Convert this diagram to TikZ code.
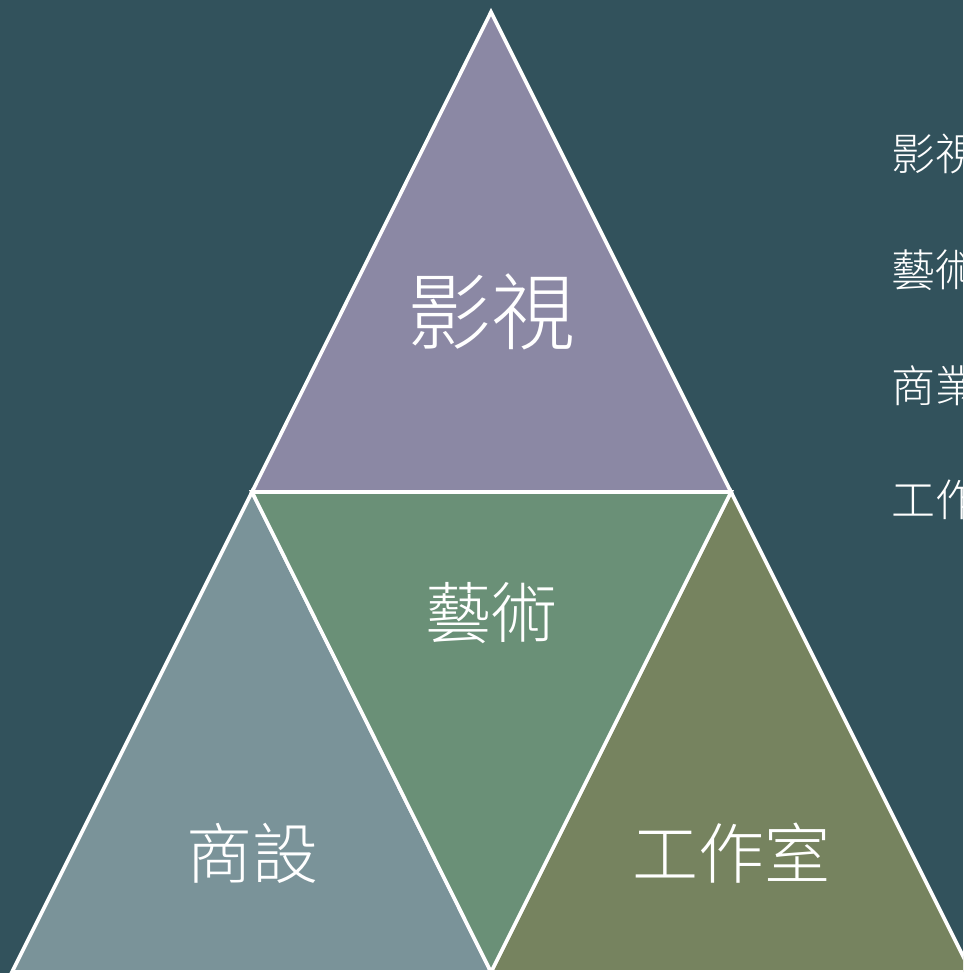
\documentclass[tikz,border=0pt]{standalone}
\usepackage{fontspec}
\newfontfamily\cjk{Noto Sans CJK TC}[UprightFont={* Light}]
\definecolor{bgc}{HTML}{32525C}
\definecolor{topc}{HTML}{8B88A4}
\definecolor{midc}{HTML}{6A9077}
\definecolor{leftc}{HTML}{7A9399}
\definecolor{rightc}{HTML}{76835F}
\tikzset{
  tri/.style={draw=white, line width=3.6pt, line join=miter},
  biglabel/.style={text=white, font=\cjk\fontsize{84}{90}\selectfont, inner sep=0pt},
  midlabel/.style={text=white, font=\cjk\fontsize{66}{72}\selectfont, inner sep=0pt},
  sidelabel/.style={text=white, font=\cjk\fontsize{44}{50}\selectfont, inner sep=0pt, anchor=west},
}
\begin{document}
\begin{tikzpicture}[x=1pt,y=-1pt]
\useasboundingbox (0,0) rectangle (963,973);
\clip (0,0) rectangle (963,973);
\fill[bgc] (0,0) rectangle (963,973);
% triangles
\coordinate (apex) at (491,12);
\coordinate (ml) at (252,492);
\coordinate (mr) at (731,492);
\coordinate (bl) at (12,972);
\coordinate (bm) at (491,972);
\coordinate (br) at (971,972);
\filldraw[tri, fill=topc] (apex) -- (mr) -- (ml) -- cycle;
\filldraw[tri, fill=leftc] (ml) -- (bm) -- (bl) -- cycle;
\filldraw[tri, fill=rightc] (mr) -- (br) -- (bm) -- cycle;
\filldraw[tri, fill=midc] (ml) -- (mr) -- (bm) -- cycle;
% labels
\node[biglabel] (ys) at (491,312) {影視};
\node[midlabel] (ys2) at (491,613) {藝術};
\node[midlabel] (sj) at (252,853) {商設};
\node[midlabel] (gzs) at (731,853) {工作室};
% side list
\node[sidelabel] (l1) at (891,154) {影視};
\node[sidelabel] (l2) at (891,270) {藝術};
\node[sidelabel] (l3) at (891,386) {商業};
\node[sidelabel] (l4) at (891,500) {工作室};
\end{tikzpicture}
\end{document}
